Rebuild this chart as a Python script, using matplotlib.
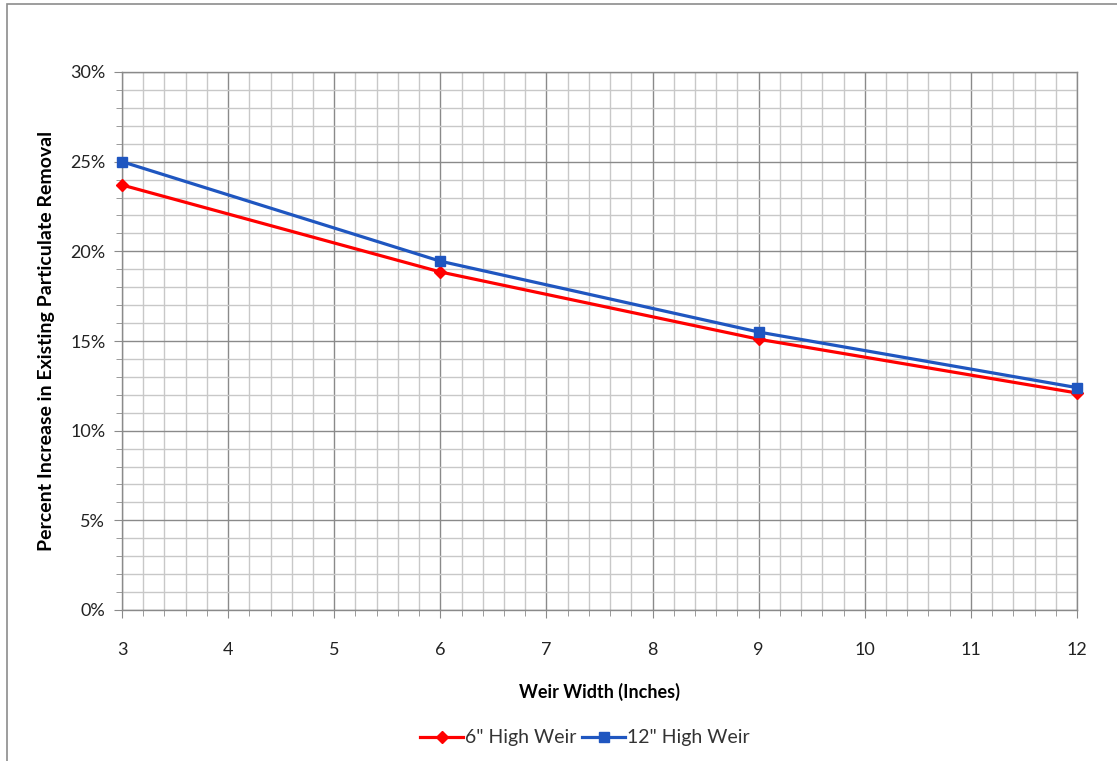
import matplotlib
matplotlib.use("Agg")
import matplotlib.pyplot as plt
from matplotlib.ticker import MultipleLocator, FuncFormatter
from matplotlib.patches import Rectangle

weir_width = [3, 6, 9, 12]
high6 = [23.7, 18.85, 15.1, 12.1]
high12 = [25.0, 19.45, 15.5, 12.4]
series_labels = ['6" High Weir', '12" High Weir']

plt.rcParams['font.family'] = ['Lato', 'DejaVu Sans']

fig = plt.figure(figsize=(11.17, 7.61), dpi=100)
W, H = 1117, 761
ax = fig.add_axes([122 / W, (H - 610) / H, (1077 - 122) / W, (610 - 72) / H])

fig.patches.append(Rectangle((7 / W, -0.1), 1.2, (H - 4) / H + 0.1, transform=fig.transFigure,
                             fill=False, edgecolor='#8c8c8c', linewidth=1.2, zorder=0))

ax.plot(weir_width, high6, color='#FF0000', lw=2.3, marker='D', ms=6.5, label=series_labels[0], zorder=5, clip_on=False)
ax.plot(weir_width, high12, color='#1F56C0', lw=2.3, marker='s', ms=6.5, label=series_labels[1], zorder=6, clip_on=False)

ax.set_xlim(3, 12)
ax.set_ylim(0, 30)
ax.xaxis.set_major_locator(MultipleLocator(1))
ax.xaxis.set_minor_locator(MultipleLocator(0.2))
ax.yaxis.set_major_locator(MultipleLocator(5))
ax.yaxis.set_minor_locator(MultipleLocator(1))
ax.yaxis.set_major_formatter(FuncFormatter(lambda v, p: f"{v:.0f}%"))

ax.grid(which='minor', color='#c8c8c8', lw=1.0)
ax.grid(which='major', color='#8a8a8a', lw=1.0)
ax.set_axisbelow(True)

for s in ax.spines.values():
    s.set_color('#8a8a8a')
    s.set_linewidth(1.0)

ax.tick_params(which='both', direction='out', color='#8a8a8a', labelsize=13, labelcolor='#222222')
ax.tick_params(which='major', length=6)
ax.tick_params(which='minor', length=4)
ax.tick_params(axis='x', pad=17)
ax.tick_params(axis='y', pad=6)

ax.set_xlabel('Weir Width (Inches)', fontsize=13, fontweight='bold', labelpad=18)
ax.set_ylabel('Percent Increase in Existing Particulate Removal', fontsize=14, fontweight='bold', labelpad=11)

fig.legend(loc='center', bbox_to_anchor=(585 / W, (H - 738) / H), ncol=2, frameon=False,
           fontsize=14, handlelength=2.2, columnspacing=0.3, handletextpad=0.1, labelcolor='#333333')

fig.savefig('out.png', dpi=100)
